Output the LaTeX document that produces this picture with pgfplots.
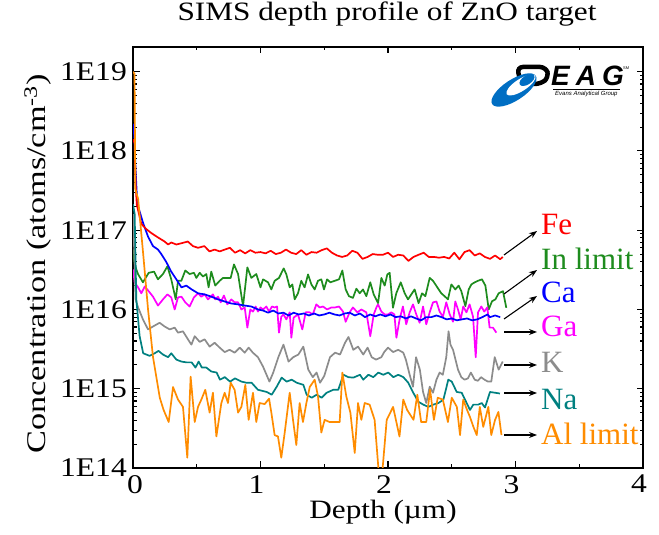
\documentclass[border=0pt]{standalone}
\usepackage{fontspec}
\setmainfont{Liberation Serif}
\newfontfamily\titleserif{Liberation Serif}[FakeStretch=1.18]
\newfontfamily\tickserif{Liberation Serif}[FakeStretch=1.17]
\newfontfamily\ylabserif{Liberation Serif}[FakeStretch=1.27]
\newfontfamily\logofont{Liberation Sans}
\usepackage{pgfplots}
\pgfplotsset{compat=1.18}
\usepackage{pgfplotstable}
\usetikzlibrary{arrows.meta}

\definecolor{feRed}{RGB}{255,0,0}
\definecolor{inGreen}{RGB}{30,140,30}
\definecolor{caBlue}{RGB}{0,0,255}
\definecolor{gaMag}{RGB}{255,0,255}
\definecolor{kGray}{RGB}{140,140,140}
\definecolor{naTeal}{RGB}{0,128,128}
\definecolor{alOrange}{RGB}{255,140,0}
\definecolor{eagblue}{RGB}{0,110,195}

\newcommand\titlefont{\titleserif\fontsize{26.5}{30}\selectfont}
\newcommand\ticklabelfont{\tickserif\fontsize{27}{30}\selectfont}
\newcommand\xlabelfont{\titleserif\fontsize{26.5}{30}\selectfont}
\newcommand\ylabelfont{\ylabserif\fontsize{27}{30}\selectfont}
\newcommand\seriesfont{\fontsize{31}{36}\selectfont}

% depth (um)   concentration (atoms/cm^3)
\pgfplotstableread{
x y
0 1.4e18
0.013 1.25e18
0.02 3.8e17
0.03 2.1e17
0.065 1.2e17
0.105 1.03e17
0.144 9.2e16
0.196 8.1e16
0.248 7.2e16
0.275 6.6e16
0.30 7.0e16
0.34 6.6e16
0.38 6.85e16
0.43 7.2e16
0.47 6.3e16
0.51 6.0e16
0.56 6.3e16
0.60 5.4e16
0.64 5.7e16
0.68 5.4e16
0.72 5.7e16
0.76 6.0e16
0.80 5.2e16
0.84 5.6e16
0.88 5.1e16
0.92 5.6e16
0.96 5.2e16
1.00 5.3e16
1.04 5.1e16
1.08 5.5e16
1.12 5.0e16
1.16 5.2e16
1.20 5.7e16
1.24 5.2e16
1.28 5.0e16
1.32 5.6e16
1.36 4.9e16
1.40 5.3e16
1.44 5.2e16
1.48 5.6e16
1.52 5.9e16
1.56 5.2e16
1.60 4.8e16
1.64 4.6e16
1.68 4.8e16
1.72 5.5e16
1.76 5.2e16
1.80 4.35e16
1.84 4.6e16
1.88 5.0e16
1.92 4.9e16
1.96 4.9e16
2.00 5.2e16
2.04 4.6e16
2.08 4.9e16
2.12 4.8e16
2.16 4.1e16
2.20 4.6e16
2.24 4.9e16
2.28 5.2e16
2.32 4.6e16
2.36 4.6e16
2.40 4.5e16
2.44 4.6e16
2.48 4.4e16
2.52 5.2e16
2.56 4.3e16
2.60 5.3e16
2.64 5.6e16
2.68 4.8e16
2.72 5.1e16
2.76 4.6e16
2.80 4.35e16
2.84 4.8e16
2.88 4.3e16
2.90 4.6e16
}\tabFe

\pgfplotstableread{
x y
0 5.7e16
0.013 3.7e16
0.039 2.8e16
0.078 2.2e16
0.123 2.9e16
0.165 3.0e16
0.196 2.4e16
0.235 2.8e16
0.27 3.5e16
0.30 2.4e16
0.335 1.34e16
0.353 2.3e16
0.379 2.3e16
0.41 3.1e16
0.444 2.8e16
0.478 2.9e16
0.497 2.5e16
0.523 2.9e16
0.549 2.6e16
0.575 2.8e16
0.593 1.9e16
0.614 3.0e16
0.645 2.0e16
0.68 2.3e16
0.706 2.5e16
0.745 2.5e16
0.766 2.5e16
0.792 3.7e16
0.824 2.8e16
0.863 1.1e16
0.897 3.4e16
0.928 2.5e16
0.967 2.8e16
1.0 1.9e16
1.02 2.4e16
1.059 2.2e16
1.085 1.79e16
1.111 2.3e16
1.145 2.5e16
1.182 3.3e16
1.203 2.77e16
1.229 1.9e16
1.25 2.07e16
1.268 1.34e16
1.294 1.6e16
1.32 2.3e16
1.346 1.9e16
1.373 2.77e16
1.399 2.07e16
1.425 1.79e16
1.451 2.3e16
1.477 2.4e16
1.498 1.79e16
1.522 2.4e16
1.548 2.2e16
1.582 2.3e16
1.616 2.4e16
1.642 3.1e16
1.668 1.79e16
1.694 1.47e16
1.725 1.4e16
1.752 1.83e16
1.778 1.6e16
1.804 1.79e16
1.83 1.47e16
1.861 2.2e16
1.888 1.55e16
1.922 1.2e16
1.948 2.5e16
1.974 2.0e16
1.995 2.77e16
2.013 2.9e16
2.039 1.05e16
2.065 1.6e16
2.10 2.2e16
2.131 1.6e16
2.157 1.34e16
2.183 1.55e16
2.209 1.79e16
2.24 1.2e16
2.267 1.6e16
2.293 1.47e16
2.327 2.5e16
2.353 2.3e16
2.387 1.9e16
2.418 1.6e16
2.444 1.47e16
2.47 1.34e16
2.497 2.07e16
2.528 1.79e16
2.554 2.0e16
2.575 1.7e16
2.607 1.1e16
2.633 1.79e16
2.654 2.07e16
2.68 2.2e16
2.706 2.3e16
2.737 2.4e16
2.764 2.0e16
2.79 1.0e16
2.816 1.27e16
2.842 1.34e16
2.868 1.6e16
2.902 1.7e16
2.928 1.05e16
}\tabIn

\pgfplotstableread{
x y
0 2.2e18
0.01 1.55e18
0.02 5.9e17
0.03 2.8e17
0.04 2.0e17
0.078 1.25e17
0.118 8.3e16
0.157 6.3e16
0.196 5.7e16
0.222 5.0e16
0.26 4.0e16
0.30 3.0e16
0.34 2.4e16
0.38 1.9e16
0.418 2.0e16
0.458 1.8e16
0.51 1.6e16
0.562 1.55e16
0.614 1.45e16
0.667 1.34e16
0.719 1.26e16
0.771 1.19e16
0.824 1.16e16
0.876 1.12e16
0.928 1.09e16
0.98 1.0e16
1.02 9.7e15
1.06 9.1e15
1.10 9.7e15
1.14 8.9e15
1.18 9.1e15
1.22 8.4e15
1.26 9.1e15
1.30 8.65e15
1.34 8.9e15
1.38 8.4e15
1.42 8.9e15
1.46 8.4e15
1.50 8.65e15
1.54 9.1e15
1.58 8.65e15
1.62 8.4e15
1.66 8.9e15
1.70 9.1e15
1.74 8.4e15
1.78 8.9e15
1.82 8.0e15
1.86 8.65e15
1.90 8.2e15
1.94 8.65e15
1.98 8.2e15
2.02 8.65e15
2.06 8.0e15
2.10 8.2e15
2.14 7.7e15
2.18 8.2e15
2.22 7.7e15
2.26 7.3e15
2.30 8.0e15
2.34 8.0e15
2.38 8.4e15
2.42 8.0e15
2.46 7.5e15
2.50 7.7e15
2.54 7.3e15
2.58 7.5e15
2.62 7.7e15
2.66 7.3e15
2.70 7.5e15
2.74 8.0e15
2.78 8.65e15
2.80 8.0e15
2.84 8.4e15
2.88 8.0e15
}\tabCa

\pgfplotstableread{
x y
0 3.2e16
0.013 2.2e16
0.04 1.9e16
0.065 1.6e16
0.092 1.95e16
0.123 1.7e16
0.157 1.45e16
0.196 1.12e16
0.235 1.34e16
0.27 1.55e16
0.30 1.42e16
0.327 1.0e16
0.353 1.42e16
0.38 1.45e16
0.41 1.23e16
0.444 1.09e16
0.478 1.42e16
0.51 1.6e16
0.536 1.45e16
0.562 1.55e16
0.588 1.34e16
0.627 1.55e16
0.645 1.34e16
0.667 1.45e16
0.688 1.23e16
0.713 1.5e16
0.74 1.16e16
0.771 1.34e16
0.797 1.23e16
0.824 1.23e16
0.85 1.0e16
0.876 1.06e16
0.897 5.9e15
0.92 1.0e16
0.941 9.4e15
0.962 1.09e16
0.98 9.4e15
1.0 1.06e16
1.02 1.0e16
1.046 1.09e16
1.067 9.4e15
1.09 1.09e16
1.111 1.06e16
1.13 1.09e16
1.145 5.1e15
1.163 8.1e15
1.18 8.65e15
1.203 7.5e15
1.229 9.2e15
1.242 4.4e15
1.26 7.9e15
1.294 8.65e15
1.328 5.6e15
1.354 9.2e15
1.385 9.2e15
1.41 8.65e15
1.438 1.16e16
1.464 1.06e16
1.49 1.09e16
1.522 1.0e16
1.556 1.06e16
1.585 1.06e16
1.616 1.09e16
1.647 9.4e15
1.668 7.0e15
1.699 9.2e15
1.725 1.06e16
1.76 9.2e15
1.791 1.0e16
1.83 9.2e15
1.861 4.6e15
1.888 8.65e15
1.909 1.06e16
1.922 1.16e16
1.948 9.4e15
1.974 8.65e15
2.0 8.65e15
2.026 9.2e15
2.05 8.65e15
2.066 4.4e15
2.091 7.5e15
2.117 1.09e16
2.143 6.5e15
2.17 9.2e15
2.196 1.16e16
2.222 8.65e15
2.248 6.8e15
2.275 1.09e16
2.30 6.5e15
2.327 9.2e15
2.353 1.23e16
2.38 1.26e16
2.405 9.4e15
2.431 8.1e15
2.457 1.23e16
2.484 8.65e15
2.51 7.0e15
2.528 1.26e16
2.549 1.0e16
2.57 7.5e15
2.59 1.09e16
2.615 9.2e15
2.64 1.16e16
2.667 8.1e15
2.688 2.5e15
2.706 9.2e15
2.732 1.09e16
2.755 9.4e15
2.779 1.06e16
2.797 5.9e15
2.823 5.9e15
2.85 5.1e15
}\tabGa

\pgfplotstableread{
x y
0 1.6e17
0.012 4.3e16
0.02 1.34e16
0.04 1.06e16
0.078 7.5e15
0.118 5.6e15
0.157 6.1e15
0.209 6.8e15
0.248 6.1e15
0.288 5.6e15
0.327 5.9e15
0.353 5.1e15
0.392 5.3e15
0.431 4.2e15
0.458 3.6e15
0.484 4.6e15
0.523 3.9e15
0.562 4.2e15
0.601 3.4e15
0.64 3.8e15
0.68 3.3e15
0.719 2.9e15
0.758 3.1e15
0.797 2.85e15
0.837 3.3e15
0.876 2.85e15
0.907 3.3e15
0.94 2.85e15
0.98 2.5e15
1.02 1.9e15
1.07 1.23e15
1.10 1.6e15
1.14 2.5e15
1.18 3.6e15
1.22 2.2e15
1.257 2.5e15
1.297 2.7e15
1.336 3.4e15
1.375 1.74e15
1.41 1.4e15
1.44 1.6e15
1.467 1.19e15
1.50 1.45e15
1.545 2.5e15
1.585 2.85e15
1.624 2.7e15
1.663 3.8e15
1.69 4.5e15
1.728 3.1e15
1.765 3.4e15
1.806 2.7e15
1.84 3.3e15
1.872 2.5e15
1.906 2.33e15
1.948 2.5e15
1.97 2.9e15
2.0 3.3e15
2.04 2.9e15
2.08 3.1e15
2.12 2.85e15
2.14 2.33e15
2.17 1.5e15
2.196 1.06e15
2.22 2.5e15
2.25 1.74e15
2.275 9.1e14
2.30 6.6e14
2.327 1.06e15
2.353 8.9e14
2.38 1.3e15
2.405 1.6e15
2.43 1.5e15
2.457 2.5e15
2.475 5.3e15
2.49 3.6e15
2.51 3.1e15
2.549 1.74e15
2.575 1.4e15
2.60 1.3e15
2.627 1.35e15
2.65 1.6e15
2.68 1.3e15
2.705 1.26e15
2.73 1.4e15
2.757 1.3e15
2.784 1.23e15
2.81 1.23e15
2.837 2.5e15
2.868 1.74e15
2.90 2.2e15
}\tabK

\pgfplotstableread{
x y
0 2.13e17
0.013 1.6e17
0.026 1.34e16
0.052 4.6e15
0.08 2.8e15
0.13 2.6e15
0.17 2.8e15
0.2 3.0e15
0.235 2.7e15
0.275 2.5e15
0.30 2.8e15
0.34 2.33e15
0.38 2.2e15
0.42 2.15e15
0.46 2.15e15
0.49 1.85e15
0.515 2.2e15
0.54 1.85e15
0.575 1.85e15
0.614 1.65e15
0.656 1.6e15
0.682 1.3e15
0.72 1.4e15
0.761 1.23e15
0.80 1.35e15
0.85 1.23e15
0.89 1.19e15
0.93 1.19e15
0.98 9.7e14
1.049 9.1e14
1.088 8.4e14
1.127 1.06e15
1.166 1.38e15
1.205 1.23e15
1.245 1.3e15
1.284 1.19e15
1.336 1.12e15
1.362 8.4e14
1.402 7.7e14
1.44 8.4e14
1.48 7.7e14
1.519 8.9e14
1.571 9.7e14
1.61 9.7e14
1.65 1.5e15
1.689 1.4e15
1.728 1.38e15
1.78 1.5e15
1.806 1.3e15
1.846 1.5e15
1.885 1.4e15
1.924 1.6e15
1.963 1.5e15
2.002 1.6e15
2.042 1.4e15
2.081 1.5e15
2.12 1.4e15
2.159 1.19e15
2.198 8.9e14
2.238 6.85e14
2.277 6.3e14
2.316 5.9e14
2.355 6.3e14
2.395 6.6e14
2.434 7.25e14
2.473 1.3e15
2.5 1.23e15
2.539 9.1e14
2.578 8.9e14
2.617 6.6e14
2.643 5.4e14
2.669 6.3e14
2.708 6.3e14
2.735 6.6e14
2.761 5.8e14
2.8 9.1e14
2.839 8.9e14
2.878 8.7e14
}\tabNa

\pgfplotstableread{
x y
0 1.0e19
0.012 9.4e18
0.018 3.3e17
0.04 2.5e17
0.08 5.0e16
0.118 1.0e16
0.157 2.5e15
0.21 7.7e14
0.24 5.4e14
0.28 3.8e14
0.314 1.05e15
0.353 7.3e14
0.392 5.9e14
0.426 1.35e14
0.452 1.42e15
0.484 3.8e14
0.51 5.9e14
0.536 7.3e14
0.567 9.7e14
0.601 5.0e14
0.627 8.9e14
0.654 2.5e14
0.693 6.6e14
0.719 8.9e14
0.745 6.6e14
0.766 1.19e15
0.797 9.7e14
0.824 5.0e14
0.85 5.9e14
0.881 1.12e15
0.907 4.05e14
0.941 8.9e14
0.967 3.8e14
0.993 6.6e14
1.033 6.4e14
1.067 7.5e14
1.085 5.0e14
1.111 2.6e14
1.137 2.5e14
1.163 1.35e14
1.19 2.8e14
1.229 8.9e14
1.255 4.05e14
1.281 1.95e14
1.307 6.6e14
1.333 3.8e14
1.36 6.6e14
1.386 1.05e15
1.425 1.3e15
1.451 8.0e14
1.477 2.8e14
1.503 4.05e14
1.542 3.8e14
1.621 3.8e14
1.642 1.6e15
1.673 8.0e14
1.705 5.0e14
1.739 1.55e14
1.765 6.6e14
1.791 4.05e14
1.817 6.6e14
1.856 6.3e14
1.895 4.05e14
1.929 8.1e13
1.955 8.8e13
1.99 4.05e14
2.04 5.9e14
2.09 2.5e14
2.12 7.3e14
2.15 5.4e14
2.2 4.05e14
2.23 8.4e14
2.26 3.8e14
2.30 3.8e14
2.33 9.7e14
2.36 4.05e14
2.39 7.7e14
2.43 7.3e14
2.47 3.8e14
2.50 7.7e14
2.54 5.9e14
2.565 2.6e14
2.59 7.3e14
2.62 5.4e14
2.643 4.4e14
2.67 3.3e14
2.696 2.6e14
2.72 5.9e14
2.747 3.3e14
2.787 5.9e14
2.81 2.6e14
2.84 4.05e14
2.866 5.1e14
2.89 2.6e14
}\tabAl

\begin{document}
\begin{tikzpicture}[x=1pt,y=1pt]
\path[use as bounding box] (0,0) rectangle (659,535);
\begin{axis}[
  at={(133pt,67pt)}, anchor=south west,
  width=510pt, height=421pt, scale only axis,
  xmin=0, xmax=4,
  ymode=log, ymin=1e14, ymax=2.05e19,
  axis line style={line width=1.5pt},
  every tick/.style={line width=1.1pt, black},
  tick align=inside,
  major tick length=6.5pt, minor tick length=3.5pt,
  xtick={0,1,2,3,4},
  % the first label is nudged right so that it clears 1E14
  xticklabels={\hspace*{12pt}0,1,2,3,4},
  minor xtick={0.5,1.5,2.5,3.5},
  ytick={1e14,1e15,1e16,1e17,1e18,1e19},
  yticklabels={1E14,1E15,1E16,1E17,1E18,1E19},
  minor ytick={2e14,3e14,4e14,5e14,6e14,7e14,8e14,9e14,
               2e15,3e15,4e15,5e15,6e15,7e15,8e15,9e15,
               2e16,3e16,4e16,5e16,6e16,7e16,8e16,9e16,
               2e17,3e17,4e17,5e17,6e17,7e17,8e17,9e17,
               2e18,3e18,4e18,5e18,6e18,7e18,8e18,9e18,2e19},
  ticklabel style={font=\ticklabelfont},
  xticklabel style={inner sep=0pt, yshift=-7pt, xshift=-4pt},
  yticklabel style={inner sep=0pt, xshift=-6pt},
  every axis plot/.append style={line width=1.7pt, line join=round},
]
\addplot[inGreen] table {\tabIn};
\addplot[gaMag] table {\tabGa};
\addplot[kGray] table {\tabK};
\addplot[naTeal] table {\tabNa};
\addplot[caBlue] table {\tabCa};
\addplot[feRed] table {\tabFe};
\addplot[alOrange] table {\tabAl};
\end{axis}

% title and axis titles
\node[anchor=base, inner sep=0pt] at (387,514) {\titlefont SIMS depth profile of ZnO target};
\node[anchor=base, inner sep=0pt] at (383,16) {\xlabelfont Depth (µm)};
\node[anchor=base, rotate=90, inner sep=0pt] at (46,271) {\ylabelfont Concentration (atoms/cm\textsuperscript{-3})};

% element labels with pointers to the curve ends
\tikzset{pointer/.style={-{Stealth[length=8pt,width=6pt]}, line width=1.1pt, black}}
\draw[pointer] (504,280) -- (537,304);
\draw[pointer] (504,241) -- (537,265);
\draw[pointer] (504,216) -- (537,239);
\draw[pointer] (504,203) -- (537,203);
\draw[pointer] (504,170) -- (537,170);
\draw[pointer] (504,142) -- (537,142);
\draw[pointer] (504,100) -- (537,100);
\node[anchor=base west, inner sep=0pt, text=feRed]    at (541,300) {\seriesfont Fe};
\node[anchor=base west, inner sep=0pt, text=inGreen]  at (541,265) {\seriesfont In limit};
\node[anchor=base west, inner sep=0pt, text=caBlue]   at (541,232) {\seriesfont Ca};
\node[anchor=base west, inner sep=0pt, text=gaMag]    at (541,198) {\seriesfont Ga};
\node[anchor=base west, inner sep=0pt, text=kGray]    at (541,162) {\seriesfont K};
\node[anchor=base west, inner sep=0pt, text=naTeal]   at (541,125) {\seriesfont Na};
\node[anchor=base west, inner sep=0pt, text=alOrange] at (541,90)  {\seriesfont Al limit};

% company mark
\draw[line width=4.5pt, rounded corners=6pt] (521,451) -- (517,468) -- (546,468) -- (549,458) -- (541,451) -- cycle;
\fill[eagblue, rotate around={33:(514,445)}] (514,445) ellipse [x radius=26, y radius=10.5];
\fill[white, rotate around={33:(521,450)}] (521,450) ellipse [x radius=17, y radius=6];
\fill[eagblue, rotate around={33:(527,455)}] (527,455) ellipse [x radius=8.5, y radius=4.5];
\node[anchor=base west, inner sep=0pt] at (551,449)
  {\logofont\bfseries\itshape\fontsize{28}{28}\selectfont E\hspace{6pt}A\hspace{6pt}G};
\draw[line width=0.6pt] (553,445.5) -- (620,445.5);
\node[anchor=north west, inner sep=0pt] at (555,444)
  {\logofont\itshape\fontsize{6}{6}\selectfont Evans Analytical Group};
\node[anchor=south west, inner sep=0pt] at (623,465) {\logofont\fontsize{4}{4}\selectfont SM};
\end{tikzpicture}
\end{document}
